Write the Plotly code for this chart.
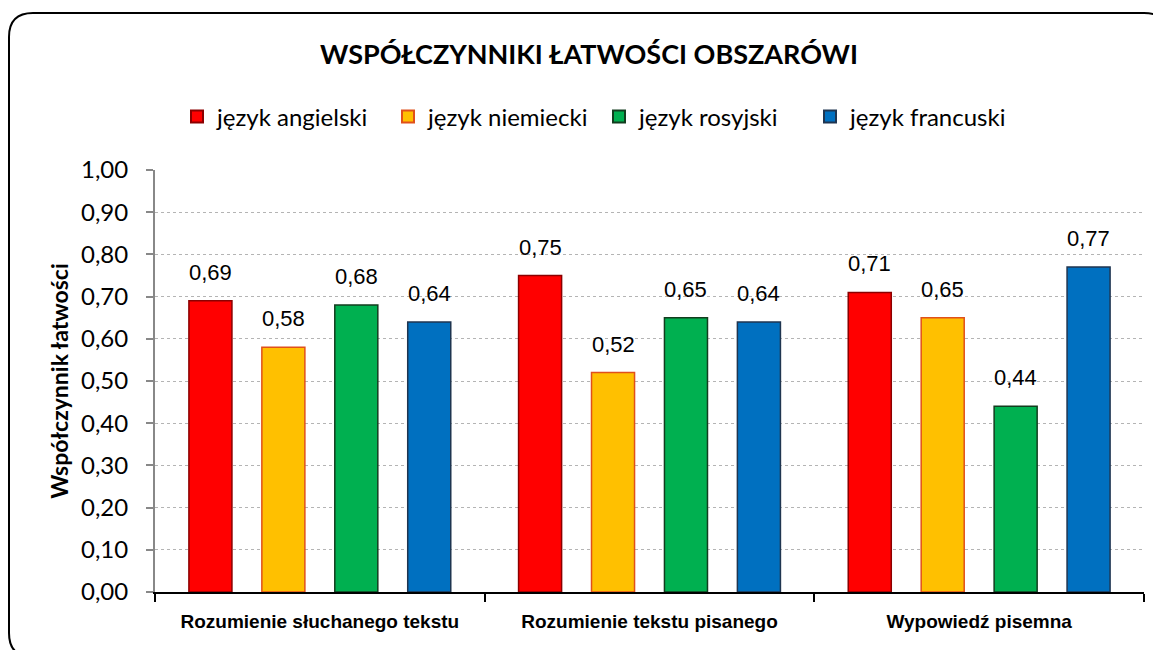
import plotly.graph_objects as go

categories = ["Rozumienie słuchanego tekstu", "Rozumienie tekstu pisanego", "Wypowiedź pisemna"]
series_names = ["język angielski", "język niemiecki", "język rosyjski", "język francuski"]
angielski = [0.69, 0.75, 0.71]
niemiecki = [0.58, 0.52, 0.65]
rosyjski = [0.68, 0.65, 0.44]
francuski = [0.64, 0.64, 0.77]
series_values = [angielski, niemiecki, rosyjski, francuski]
fill_colors = ["#FF0000", "#FFC000", "#00B050", "#0070C0"]
line_colors = ["#8B0000", "#E0501A", "#123D1E", "#1F3550"]
y_ticks = [round(i * 0.1, 1) for i in range(11)]

# the page body adds an 8px margin, so work in offset coordinates
OFF = 8
W, H = 1161 - OFF, 650 - OFF
L, T = 155 - OFF, 170 - OFF
R = W - (1144 - OFF)
B = H - (592 - OFF)
PW, PH = W - L - R, H - T - B
BARGAP = 0.115
BARGROUPGAP = 0.41

fig = go.Figure()
for name, vals, fc, lc in zip(series_names, series_values, fill_colors, line_colors):
    fig.add_trace(go.Bar(
        x=categories, y=vals, name=name,
        marker=dict(color=fc, line=dict(color=lc, width=1.5)),
    ))

# data labels
cat_px = PW / len(categories)
slot_px = cat_px * (1 - BARGAP) / len(series_names)
for i, vals in enumerate(series_values):
    for c, v in zip(categories, vals):
        fig.add_annotation(
            x=c, y=v, xref="x", yref="y",
            text=f"{v:.2f}".replace(".", ","),
            showarrow=False, yanchor="bottom",
            xshift=(i - (len(series_names) - 1) / 2) * slot_px, yshift=14,
            font=dict(family="Liberation Sans, Arial", size=22, color="#000"),
        )

def px_x(p):
    return (p - OFF - L) / PW

def px_y(p):
    return (H - B - (p - OFF)) / PH

# rounded border
x0, x1, y0, y1, r = 9, 1168, 13, 657, 24
path = (
    f"M {px_x(x0 + r)},{px_y(y0)} L {px_x(x1 - r)},{px_y(y0)} "
    f"Q {px_x(x1)},{px_y(y0)} {px_x(x1)},{px_y(y0 + r)} "
    f"L {px_x(x1)},{px_y(y1 - r)} Q {px_x(x1)},{px_y(y1)} {px_x(x1 - r)},{px_y(y1)} "
    f"L {px_x(x0 + r)},{px_y(y1)} Q {px_x(x0)},{px_y(y1)} {px_x(x0)},{px_y(y1 - r)} "
    f"L {px_x(x0)},{px_y(y0 + r)} Q {px_x(x0)},{px_y(y0)} {px_x(x0 + r)},{px_y(y0)} Z"
)
fig.add_shape(type="path", path=path, xref="paper", yref="paper",
              line=dict(color="#000", width=2), layer="above")

fig.update_layout(
    width=W, height=H,
    margin=dict(l=L, r=R, t=T, b=B),
    paper_bgcolor="white", plot_bgcolor="white",
    separators=", ",
    barmode="group", bargap=BARGAP, bargroupgap=BARGROUPGAP,
    title=dict(text="<b>WSPÓŁCZYNNIKI ŁATWOŚCI OBSZARÓWI</b>",
               x=px_x(589), xanchor="center", y=1 - (55 - OFF) / H, yanchor="middle",
               xref="paper",
               font=dict(family="Lato", size=27, color="#000")),
    legend=dict(orientation="h", x=px_x(177), xanchor="left", y=px_y(117), yanchor="middle",
                font=dict(family="Lato", size=24, color="#000"),
                itemsizing="constant", traceorder="normal", itemwidth=30,
                entrywidth=166, entrywidthmode="pixels"),
    showlegend=True,
)
fig.update_yaxes(
    range=[0, 1], tickvals=y_ticks, tickformat=".2f",
    showgrid=True, gridcolor="#b4b4b4", griddash="dot", gridwidth=1,
    showline=True, linecolor="#888888", linewidth=2,
    ticks="outside", ticklen=7, tickcolor="#888888", tickwidth=1.5,
    ticklabelstandoff=13, zeroline=False, automargin=False,
    tickfont=dict(family="Lato", size=24, color="#000"),
    title=dict(text="<b>Współczynnik łatwości</b>", standoff=6,
               font=dict(family="Lato", size=23, color="#000")),
)
fig.update_xaxes(
    showline=True, linecolor="#000", linewidth=2,
    ticks="outside", tickson="boundaries", ticklen=8, tickcolor="#000", tickwidth=1.5,
    ticklabelstandoff=11, tickangle=0, automargin=False,
    tickfont=dict(family="Liberation Sans, Arial", size=19, color="#000"),
    tickprefix="<b>", ticksuffix="</b>",
)

fig.write_html("out.html")
